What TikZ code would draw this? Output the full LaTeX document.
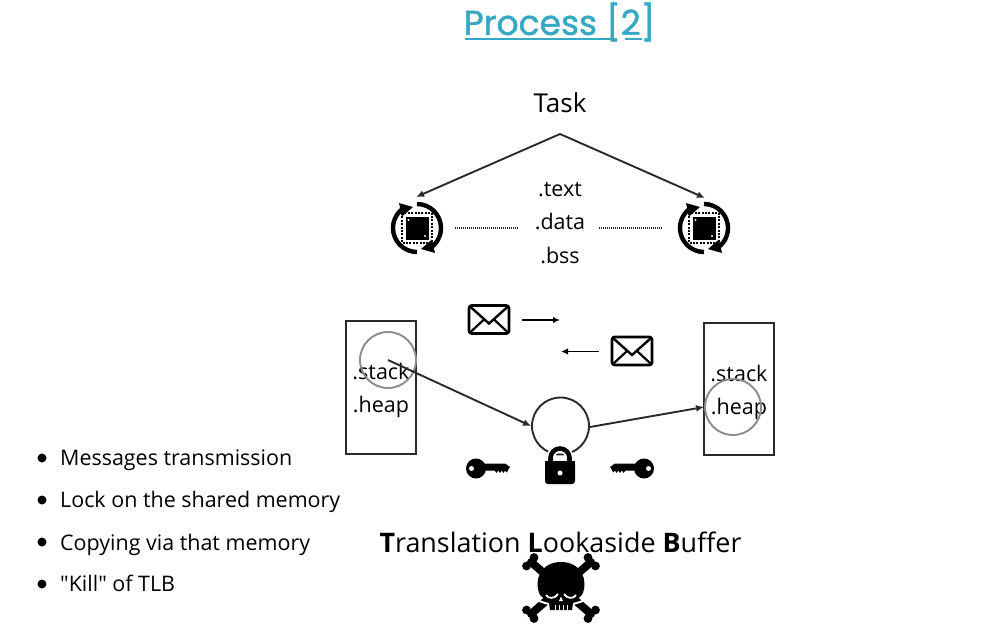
\documentclass[tikz,border=0pt]{standalone}
\usepackage{fontspec}
\setmainfont{Open Sans}
\newfontfamily\plainfont{Open Sans}
\newfontfamily\titlefont[FakeBold=1.2]{Poppins}
\usetikzlibrary{arrows.meta}
\definecolor{titlecol}{HTML}{35A8C4}
\definecolor{linecol}{HTML}{2A2A2A}
\tikzset{
  lbl/.style={inner sep=0pt,font=\fontsize{23}{26}\selectfont,text=black},
  seg/.style={inner sep=0pt,font=\fontsize{21.5}{24}\selectfont,text=black},
  bullettext/.style={inner sep=0pt,anchor=west,font=\fontsize{21.45}{24}\selectfont,text=black},
  bulletdot/.style={circle,fill=black,inner sep=0pt,minimum size=9pt},
  membox/.style={draw=linecol,line width=1.9pt,inner sep=0pt},
  ring/.style={circle,draw=#1,line width=1.9pt,inner sep=0pt,minimum size=56pt},
  conn/.style={draw=linecol,line width=1.9pt,-{Latex[length=8pt,width=7pt]}},
  dots/.style={line width=2pt,dash pattern=on 1pt off 1pt,black!85},
  cpu/.pic={
    \fill[black] (-11.5,-11.5) rectangle (11.5,11.5);
    \fill[white] (-8.5,-8) circle (1.1);
    \fill[white] (8,8) circle (1.1);
    \draw[line width=2.4pt,dash pattern=on 2pt off 1.4pt,black] (-15,-15) rectangle (15,15);
    \draw[line width=4.4pt] (0,24) arc[start angle=90,end angle=239,radius=24];
    \draw[line width=4.4pt] (0,-24) arc[start angle=-90,end angle=59,radius=24];
    \fill (-18,-25) -- (-4,-21) -- (-15,-11.5) -- cycle;
    \fill (18,25) -- (4,21) -- (15,11.5) -- cycle;
  },
  envelope/.pic={
    \draw[line width=2.6pt,rounded corners=2.5pt,line join=round] (-20,-14) rectangle (20,14);
    \draw[line width=2.4pt] (-19,-13) -- (0,4) -- (19,-13);
    \draw[line width=2.2pt] (-19,13) -- (-5,0) (19,13) -- (5,0);
  },
  keyicon/.pic={
    \fill[even odd rule] (0,0) circle (10) (-4.5,0) circle (2.6);
    \fill (6,-5) -- (29,-5) -- (34,-1.5) -- (32,1.5) -- (31,4) -- (29,2) -- (27.5,4.5) -- (25.5,2) -- (24,4.5) -- (22,2) -- (20.5,4.5) -- (18.5,2) -- (6,2) -- cycle;
  },
  lockicon/.pic={
    \draw[white,line width=8pt] (-9.5,4) -- (-9.5,-1) arc[start angle=180,end angle=360,radius=9.5] -- (9.5,4);
    \draw[line width=4.6pt] (-9.5,4) -- (-9.5,-1) arc[start angle=180,end angle=360,radius=9.5] -- (9.5,4);
    \fill[black,rounded corners=3pt] (-15,2) rectangle (15,25);
    \fill[black] (-15,2) rectangle (15,8);
    \fill[white] (0,14) circle (2.5);
  },
  bone/.style={line width=8pt,line cap=round},
  skullicon/.pic={
    \foreach \sx/\sy in {1/1,-1/1,1/-1,-1/-1}{
      \draw[bone] (0,0) -- (\sx*30,\sy*26);
      \fill (\sx*34.5,\sy*22) circle (4.4);
      \fill (\sx*27,\sy*30.5) circle (4.4);
    }
    \draw[white,line width=2pt] (-26,11) .. controls (-20,14) and (-16,15) .. (-12,16);
    \draw[white,line width=2pt] (26,11) .. controls (20,14) and (16,15) .. (12,16);
    \fill[black] (-11,22) -- (-12,15) -- (-21,7) .. controls (-28,-8) and (-20,-26) .. (0,-26) .. controls (20,-26) and (28,-8) .. (21,7) -- (12,15) -- (11,22) -- cycle;
    \draw[white,line width=1.8pt] (-15,7) .. controls (-13,11) and (-6,11) .. (-3,6);
    \draw[white,line width=1.8pt] (15,7) .. controls (13,11) and (6,11) .. (3,6);
    \fill[white] (0,8.5) -- (-2,13) -- (2,13) -- cycle;
    \foreach \t in {-6,-2,2,6}{\draw[white,line width=.9pt] (\t,17) -- (\t,22);}
  },
}
\begin{document}
\begin{tikzpicture}[x=1pt,y=-1pt]
\useasboundingbox (0,0) rectangle (995,627);
% title
\node[inner sep=0pt,text=titlecol,font=\titlefont\fontsize{34.5}{38}\selectfont] (title) at (559.5,22) {Process [2]};
\coordinate (ulL) at (465,38.5);
\coordinate (ulR) at (611,38.5);
\draw[titlecol,line width=2pt] (ulL) -- (ulR);
\coordinate (ulL2) at (625,38.5);
\coordinate (ulR2) at (642,38.5);
\draw[titlecol,line width=2pt] (ulL2) -- (ulR2);
% task
\node[lbl,font=\fontsize{26}{28}\selectfont] (task) at (560,103) {Task};
\coordinate (apex) at (560,134);
\pic (cpuL) at (417,228) {cpu};
\pic (cpuR) at (704,228) {cpu};
\coordinate (cpuLtop) at (416,197);
\coordinate (cpuRtop) at (705,198);
\draw[conn] (apex) -- (cpuLtop);
\draw[conn] (apex) -- (cpuRtop);
\node[seg] (text) at (560,190) {.text};
\node[seg] (data) at (560,221) {.data};
\node[seg] (bss) at (560,255) {.bss};
\coordinate (d1a) at (455,228); \coordinate (d1b) at (519,228);
\coordinate (d2a) at (599,228); \coordinate (d2b) at (663,228);
\draw[dots] (d1a) -- (d1b);
\draw[dots] (d2a) -- (d2b);
% messages
\pic (envA) at (489,319.5) {envelope};
\pic (envB) at (632,351) {envelope};
\coordinate (m1a) at (522,320); \coordinate (m1b) at (560,320);
\coordinate (m2a) at (599,351.5); \coordinate (m2b) at (561,351.5);
\draw[draw=black,line width=1.7pt,-{Latex[length=7pt,width=6.5pt]}] (m1a) -- (m1b);
\draw[draw=black,line width=1.7pt,-{Latex[length=7pt,width=6.5pt]}] (m2a) -- (m2b);
% memory boxes
\node[membox,minimum width=70pt,minimum height=133pt] (boxL) at (381,387.5) {};
\node[membox,minimum width=70pt,minimum height=132pt] (boxR) at (739,389) {};
\node[seg] (stackL) at (381,371) {.stack};
\node[seg] (heapL) at (381,407) {.heap};
\node[seg] (stackR) at (739,373) {.stack};
\node[seg] (heapR) at (739,409) {.heap};
\node[ring=black!45,minimum size=56pt] (ringL) at (388,360) {};
\node[ring=black!45,minimum size=56pt] (ringR) at (733,407) {};
\node[ring=linecol,minimum size=57pt] (shm) at (560.5,426) {};
\draw[conn] (ringL.center) -- (shm.west |- 0,426);
\draw[conn] (shm.east |- 0,427) -- (ringR.west |- 0,407);
% lock and keys
\pic (lock) at (560,459) {lockicon};
\pic (keyL) at (476,468.5) {keyicon};
\pic[xscale=-1] (keyR) at (644,468.5) {keyicon};
% tlb
\node[inner sep=0pt,font=\fontsize{26.9}{32}\selectfont] (tlb) at (560.5,542) {\textbf{T}ranslation \textbf{L}ookaside \textbf{B}uffer};
\pic (skull) at (561,588) {skullicon};
% bullets
\node[bulletdot] (b1) at (42,458) {};
\node[bulletdot] (b2) at (42,500) {};
\node[bulletdot] (b3) at (42,542) {};
\node[bulletdot] (b4) at (42,584) {};
\node[bullettext] (t1) at (60,460) {Messages transmission};
\node[bullettext] (t2) at (60,502) {Lock on the shared memory};
\node[bullettext] (t3) at (60,545) {Copying via that memory};
\node[bullettext] (t4) at (60,583) {{\plainfont"}Kill{\plainfont"} of TLB};
\end{tikzpicture}
\end{document}
